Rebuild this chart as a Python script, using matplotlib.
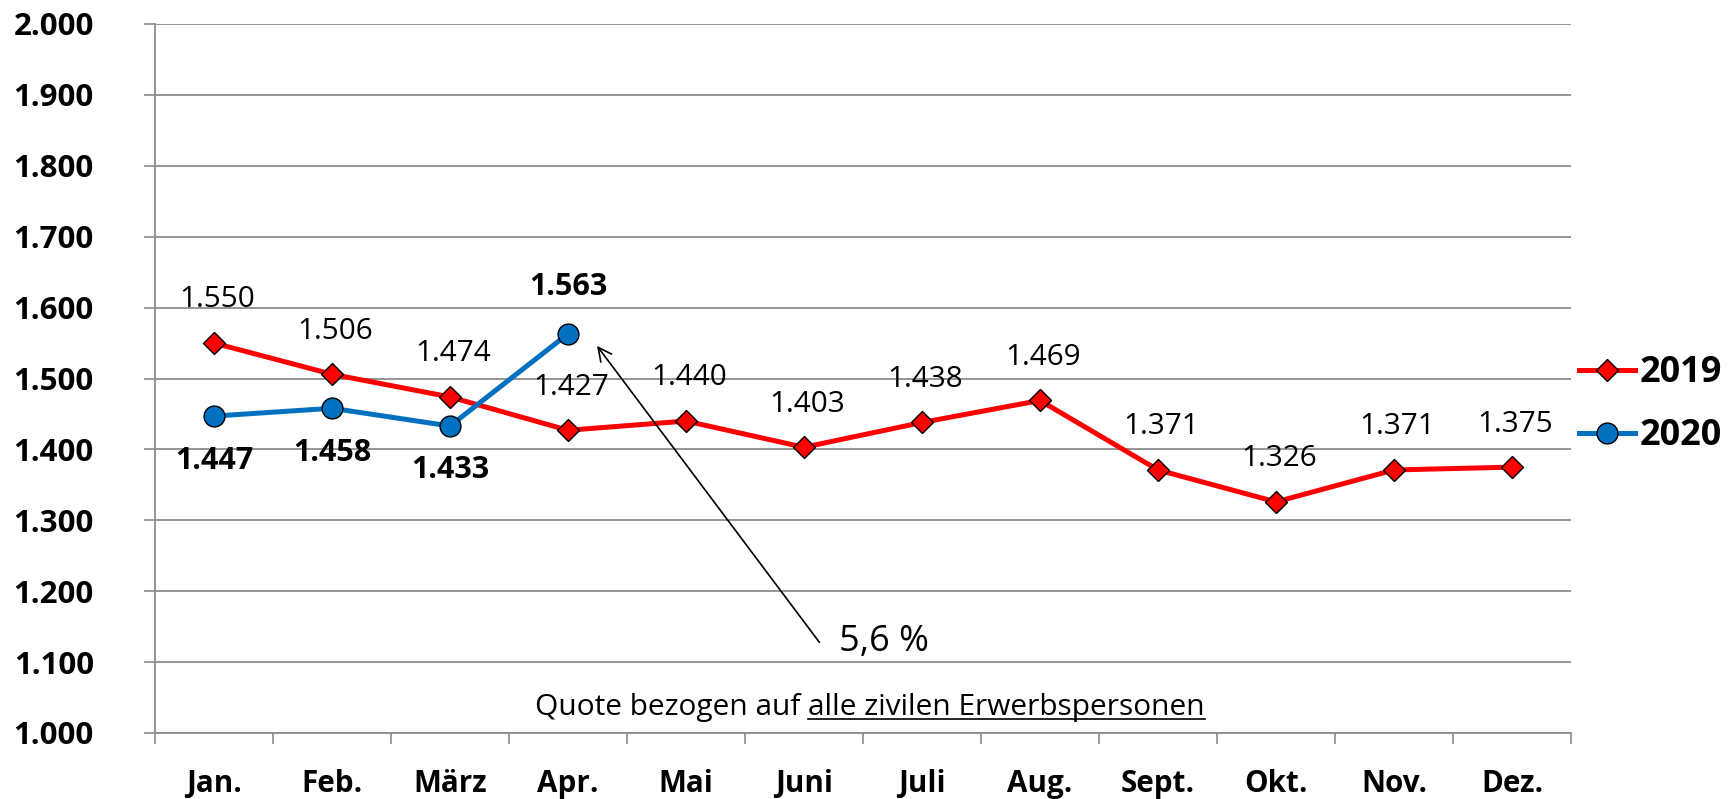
import matplotlib
matplotlib.use("Agg")
import matplotlib.pyplot as plt
from matplotlib.lines import Line2D

months = ["Jan.", "Feb.", "März", "Apr.", "Mai", "Juni", "Juli", "Aug.", "Sept.", "Okt.", "Nov.", "Dez."]
values_2019 = [1550, 1506, 1474, 1427, 1440, 1403, 1438, 1469, 1371, 1326, 1371, 1375]
values_2020 = [1447, 1458, 1433, 1563]
yticks = [1000, 1100, 1200, 1300, 1400, 1500, 1600, 1700, 1800, 1900, 2000]


def fmt(v):
    return f"{v/1000:.3f}"


FONT = "Open Sans"
plt.rcParams["font.family"] = [FONT, "DejaVu Sans"]

RED = "#FF0000"
BLUE = "#0070C0"
GRID = "#8C8C8C"

fig = plt.figure(figsize=(17.35, 7.99), dpi=100)
ax = fig.add_axes([155 / 1735, 1 - 733 / 799, 1416 / 1735, 709 / 799])

x19 = list(range(len(values_2019)))
x20 = list(range(len(values_2020)))

ax.plot(x19, values_2019, color=RED, lw=3.6, marker="D", ms=11,
        mfc=RED, mec="black", mew=1.0, label="2019", zorder=3)
ax.plot(x20, values_2020, color=BLUE, lw=3.6, marker="o", ms=15,
        mfc=BLUE, mec="black", mew=1.0, label="2020", zorder=4)

# data labels
for x, v in zip(x19, values_2019):
    ax.annotate(fmt(v), (x, v), xytext=(2, 31), textcoords="offset points",
                ha="center", va="center", fontsize=21.3, color="black")
for i, (x, v) in enumerate(zip(x20, values_2020)):
    dy = 34 if i == 3 else -32
    ax.annotate(fmt(v), (x, v), xytext=(0, dy), textcoords="offset points",
                ha="center", va="center", fontsize=22, fontweight="bold", color="black")

ax.set_xlim(-0.5, 11.5)
ax.set_ylim(1000, 2000)
ax.set_yticks(yticks)
ax.set_yticklabels([fmt(v) for v in yticks], fontsize=22.5, fontweight="bold")
ax.set_xticks(x19)
ax.set_xticklabels(months, fontsize=21.3, fontweight="bold")
ax.set_xticks([i - 0.5 for i in range(13)], minor=True)
ax.tick_params(axis="x", which="major", length=0, pad=26)
ax.tick_params(axis="x", which="minor", length=8, width=1.2, color=GRID)
ax.tick_params(axis="y", length=8, width=1.2, color=GRID, pad=36)

ax.grid(axis="y", color=GRID, lw=1.3)
ax.set_axisbelow(True)
for s in ["top", "right"]:
    ax.spines[s].set_visible(False)
for s in ["left", "bottom"]:
    ax.spines[s].set_color(GRID)
    ax.spines[s].set_linewidth(1.3)

# arrow annotation
ax.annotate("", xy=(3.246, 1546), xytext=(5.13, 1128),
            arrowprops=dict(arrowstyle="->", color="black", lw=1.2,
                            mutation_scale=24, shrinkA=0, shrinkB=0))
ax.text(5.68, 1128, "5,6 %", fontsize=26, ha="center", va="center")

# legend
handles = [Line2D([], [], color=RED, lw=3.6, marker="D", ms=11, mfc=RED, mec="black", mew=1.0),
           Line2D([], [], color=BLUE, lw=3.6, marker="o", ms=15, mfc=BLUE, mec="black", mew=1.0)]
leg = ax.legend(handles, ["2019", "2020"], loc="center left", bbox_to_anchor=(1.006, 0.463),
                frameon=False, prop={"family": FONT, "weight": "bold", "size": 26},
                handlelength=1.55, handletextpad=0.12, labelspacing=0.75,
                borderpad=0, borderaxespad=0)

# bottom note with partial underline
fig.canvas.draw()
renderer = fig.canvas.get_renderer()
part1 = "Quote bezogen auf "
part2 = "alle zivilen Erwerbspersonen"
ycen = 1 - 708 / 799
t1 = fig.text(0, ycen, part1, fontsize=21.5, ha="left", va="center")
t2 = fig.text(0, ycen, part2, fontsize=21.5, ha="left", va="center")
w1 = t1.get_window_extent(renderer).width
w2 = t2.get_window_extent(renderer).width
W = fig.bbox.width
total = w1 + w2
xstart = (870 - total / 2) / W
t1.set_x(xstart)
t2.set_x(xstart + w1 / W)
uy = 1 - 719 / 799
fig.add_artist(Line2D([xstart + w1 / W, xstart + total / W], [uy, uy],
                      color="black", lw=1.2, transform=fig.transFigure))

fig.savefig("out.png", dpi=100)
